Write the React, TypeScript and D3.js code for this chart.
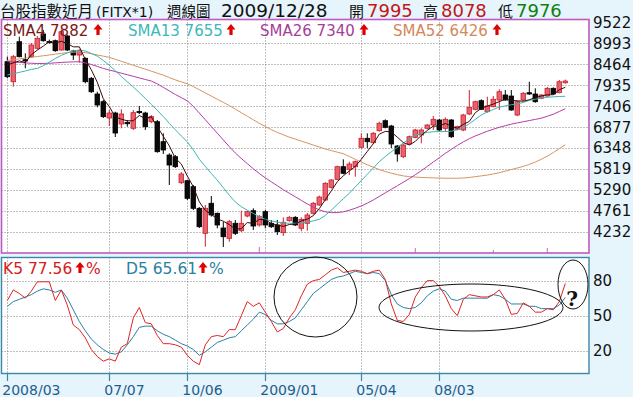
import React from "react";
import * as d3 from "d3";

// ---------- DATA ----------
const openP = [8530,8023,9036,8580,8656,8869,9231,9040,9061,8826,9180,8800,8699,8616,8110,7712,7517,7105,7231,6953,6990,6844,7270,7231,7011,7011,6505,6168,6125,5467,5518,5366,4819,4186,4946,4693,4321,4060,4440,4252,4624,4758,4397,4733,4440,4397,4202,4505,4591,4313,4440,4693,4903,5029,5351,5553,5872,5806,5872,6363,6591,6480,6783,7036,6902,6396,6125,6447,6616,6674,6844,6927,7054,6844,7054,6819,6801,7206,7325,7543,7264,7391,7560,7687,7661,7180,7560,7745,7712,7603,7661,7856,7745,7995];
const highP = [8656,8699,9163,8742,9003,9180,9332,9090,9090,9350,9205,8830,8843,8640,8143,7770,7560,7307,7264,7325,7054,7307,7408,7264,7180,7054,6717,6211,6168,5738,5535,5409,4850,4903,5130,4710,4480,4523,4523,4758,4760,4819,4650,4776,4520,4523,4590,4620,4620,4590,4700,4980,5140,5480,5560,5900,6059,6000,6030,6717,6717,6750,7010,7070,6930,6420,6450,6660,6830,6844,6950,7155,7080,7120,7080,6910,7210,7813,7545,7578,7644,7661,7831,7813,7813,7545,7760,8023,7856,7710,7890,7880,8066,8078];
const lowP = [8110,7897,8640,8363,8624,8840,9036,8990,8780,8808,8800,8573,8505,7983,7738,7375,7105,6902,6624,6844,6885,6801,7205,6801,6973,6226,6194,5409,5839,5434,5029,4776,4320,3847,4607,4313,3840,3974,4143,4220,4590,4270,4355,4313,4320,4143,4120,4480,4370,4240,4252,4660,4880,5000,5320,5530,5680,5662,5619,6337,6337,6450,6758,6844,6345,5999,6090,6420,6590,6464,6820,6801,6770,6758,6600,6790,6770,7180,7300,7307,7239,7375,7307,7543,7290,7150,7530,7690,7490,7580,7640,7690,7730,7976];
const closeP = [8150,8656,8656,8560,8952,9122,9061,9030,8808,9289,8826,8699,8808,8023,7770,7434,7138,7231,6725,7206,6970,7239,7262,6884,7138,6252,6295,5915,5872,5687,5072,4819,4353,4819,4650,4397,4100,4480,4186,4440,4733,4371,4607,4397,4353,4227,4465,4591,4397,4541,4650,4946,5105,5452,5535,5872,5705,5940,5999,6591,6505,6717,6971,6869,6447,6194,6421,6631,6801,6801,6927,7072,6801,7072,6631,6884,7180,7376,7517,7325,7408,7578,7770,7560,7307,7517,7730,7712,7517,7687,7856,7712,8023,8040];

const sma4 = [8450,8500,8550,8506,8706,8823,8924,9041,9005,9047,8988,8906,8906,8589,8325,8009,7591,7393,7132,7075,7033,7035,7169,7089,7131,6884,6642,6400,6084,5942,5637,5363,4983,4766,4660,4555,4492,4407,4291,4302,4460,4433,4538,4527,4432,4396,4361,4409,4420,4499,4545,4634,4811,5038,5260,5491,5641,5763,5879,6059,6259,6453,6696,6766,6751,6620,6483,6423,6512,6664,6790,6900,6900,6968,6894,6847,6942,7018,7239,7350,7407,7457,7520,7579,7554,7539,7529,7567,7619,7662,7693,7693,7820,7882];
const sma13 = [8193,8225,8260,8295,8335,8360,8430,8520,8610,8690,8750,8800,8826,8800,8740,8670,8560,8440,8300,8160,8020,7890,7750,7600,7450,7300,7140,6970,6810,6650,6500,6300,6060,5880,5700,5530,5340,5150,4980,4860,4770,4690,4610,4540,4500,4470,4450,4440,4440,4450,4470,4500,4540,4640,4770,4920,5060,5200,5360,5520,5680,5840,6000,6130,6250,6360,6470,6580,6670,6710,6740,6758,6760,6760,6770,6810,6860,6960,7070,7180,7260,7320,7380,7410,7440,7460,7500,7550,7580,7610,7630,7640,7650,7655];
const sma26 = [8530,8520,8510,8500,8490,8485,8485,8490,8500,8510,8520,8525,8530,8500,8460,8410,8360,8320,8280,8240,8200,8160,8120,8080,8040,7970,7880,7790,7700,7620,7540,7400,7230,7060,6890,6720,6550,6380,6220,6080,5950,5820,5700,5590,5490,5390,5290,5200,5110,5020,4930,4850,4780,4730,4710,4710,4730,4770,4820,4880,4950,5030,5120,5210,5300,5390,5480,5570,5670,5770,5880,5990,6100,6210,6310,6410,6500,6580,6650,6710,6770,6820,6870,6910,6950,6980,7010,7040,7070,7100,7150,7200,7270,7340];
const sma52 = [8560,8580,8600,8620,8640,8660,8680,8700,8720,8740,8760,8770,8780,8760,8730,8700,8670,8640,8590,8540,8490,8440,8390,8340,8290,8240,8190,8130,8070,8020,7970,7900,7820,7740,7660,7580,7500,7420,7330,7240,7150,7060,6970,6890,6810,6740,6680,6620,6570,6520,6470,6420,6370,6320,6280,6240,6200,6130,6060,5990,5920,5860,5800,5750,5710,5670,5640,5620,5610,5600,5595,5590,5585,5580,5580,5580,5585,5600,5620,5640,5660,5690,5720,5760,5800,5840,5880,5930,5990,6060,6140,6230,6330,6426];

const kLine = [63,72,69,65,71,79,79,79,63,72,59,42,38,31,21,15,11,13,11,23,26,48,57,44,43,33,26,26,25,23,16,11,8,25,32,33,32,38,38,50,62,58,61,53,45,36,39,48,55,67,77,80,81,85,89,91,87,88,89,88,86,88,89,81,60,46,45,51,66,74,80,80,75,67,56,50,64,68,67,66,66,68,72,64,51,52,61,58,53,53,56,55,62,77.56];
const dLine = [58,62,64,66,68,71,73,72,70,72,65,55,45,37,30,25,21,18,17,19,25,32,40,41,41,37,34,32,29,26,24,21,16,19,23,27,29,31,32,37,42,47,53,51,46,43,43,45,48,55,62,69,73,77,81,83,84,86,88,87,86,87,86,80,68,60,57,56,57,61,67,71,73,71,64,63,65,65,65,65,65,68,67,64,60,60,60,58,58,56,56,56,59,65.61];

const volIdx = [42, 68, 81, 90];
const volVal = [6, 5, 3, 5];

const priceTicks = [9522,8993,8464,7935,7406,6877,6348,5819,5290,4761,4232];
const kdTicks = [80, 50, 20];
const xTickLabels = ["2008/03","07/07","10/06","2009/01","05/04","08/03"];
const xTickDates = ["2008-03-10","2008-07-07","2008-10-06","2009-01-05","2009-05-04","2009-08-03"];
const holidayWeeks = ["2009-01-26"];

const header = { title: "台股指數近月", code: "(FITX*1)", period: "週線圖", date: "2009/12/28", open: 7995, high: 8078, low: 7976 };

// weekly categories
const fmt = d3.utcFormat("%Y-%m-%d");
const weeks = d3.utcMonday
  .range(new Date(Date.UTC(2008, 2, 10)), new Date(Date.UTC(2009, 11, 29)))
  .map(fmt)
  .filter((w) => !holidayWeeks.includes(w));

// ---------- LAYOUT ----------
const W = 633, H = 397;
const P1 = { x0: 1.5, x1: 589, y0: 19.5, y1: 253 };
const P2 = { x0: 1.5, x1: 589, y0: 257.5, y1: 373.5 };

const x = d3.scaleLinear().domain([0, weeks.length - 1]).range([7.3, 565.3]);
const y = d3.scaleLinear().domain([4232, 9522]).range([231.5, 22.5]);
const yk = d3.scaleLinear().domain([0, 100]).range([374, 257.3]);
const yv = d3.scaleLinear().domain([0, 10]).range([253, 243]);

const FONT = "'DejaVu Sans', Verdana, sans-serif";
const CJK = "'Noto Sans CJK TC', 'Noto Sans CJK SC', sans-serif";

const Arrow = ({ x0, base }: { x0: number; base: number }) => (
  <path
    d={`M${x0 + 4},${base - 11} L${x0 + 8.5},${base - 5.5} L${x0 + 5.6},${base - 5.5} L${x0 + 5.6},${base} L${x0 + 2.4},${base} L${x0 + 2.4},${base - 5.5} L${x0 - 0.5},${base - 5.5} Z`}
    fill="#E00000"
  />
);

export default function App() {
  const idx = d3.range(weeks.length);
  const lineGen = (arr: number[], ys: d3.ScaleLinear<number, number>) =>
    d3.line<number>().x((_, i) => x(i)).y((v) => ys(v))(arr) || "";

  const tickIdx = xTickDates.map((d) => weeks.indexOf(d));
  const gridDash = "1,2";
  const bw = 4.6;
  const hb = 16.5;

  return (
    <svg width={W} height={H} style={{ position: "absolute", left: 0, top: 0 }} xmlns="http://www.w3.org/2000/svg">
      <defs>
        <clipPath id="c1"><rect x={P1.x0} y={P1.y0} width={P1.x1 - P1.x0} height={P1.y1 - P1.y0} /></clipPath>
        <clipPath id="c2"><rect x={P2.x0} y={P2.y0} width={P2.x1 - P2.x0} height={P2.y1 - P2.y0} /></clipPath>
      </defs>
      <rect x={0} y={0} width={W} height={H} fill="#E6F4FC" />

      {/* header */}
      <g fontFamily={FONT}>
        <text x={0} y={hb} fontFamily={CJK} fontSize={15.5} fill="#111">{header.title}</text>
        <text x={96} y={hb} fontSize={14} fill="#111">{header.code}</text>
        <text x={167} y={hb} fontFamily={CJK} fontSize={14.5} fill="#111">{header.period}</text>
        <text x={221} y={hb} fontSize={18.5} fill="#111">{header.date}</text>
        <text x={349} y={hb} fontFamily={CJK} fontSize={15} fill="#111">開</text>
        <text x={367} y={hb} fontSize={18} fill="#C01818">{header.open}</text>
        <text x={423} y={hb} fontFamily={CJK} fontSize={15} fill="#111">高</text>
        <text x={441} y={hb} fontSize={18} fill="#C01818">{header.high}</text>
        <text x={498} y={hb} fontFamily={CJK} fontSize={15} fill="#111">低</text>
        <text x={516} y={hb} fontSize={18} fill="#108010">{header.low}</text>
      </g>

      {/* upper panel */}
      <rect x={P1.x0} y={P1.y0} width={P1.x1 - P1.x0} height={P1.y1 - P1.y0} fill="#fff" />
      <g stroke="#808080" strokeWidth={1} strokeDasharray={gridDash}>
        {priceTicks.slice(1).map((t) => (
          <line key={t} x1={P1.x0} x2={P1.x1} y1={Math.round(y(t)) + 0.5} y2={Math.round(y(t)) + 0.5} />
        ))}
        {tickIdx.map((t, i) => (
          <line key={i} x1={Math.round(x(t)) + 0.5} x2={Math.round(x(t)) + 0.5} y1={P1.y0} y2={P1.y1} />
        ))}
      </g>
      <g clipPath="url(#c1)">
        {volIdx.map((vi, i) => (
          <line key={i} x1={x(vi)} x2={x(vi)} y1={yv(0)} y2={yv(volVal[i])} stroke="#C070C0" strokeWidth={1} />
        ))}
        {idx.map((i) => {
          const up = closeP[i] >= openP[i];
          const top = y(Math.max(openP[i], closeP[i]));
          const bot = y(Math.min(openP[i], closeP[i]));
          const cx = x(i);
          return (
            <g key={i}>
              <line x1={cx} x2={cx} y1={y(highP[i])} y2={y(lowP[i])} stroke={up ? "#C8202E" : "#000"} strokeWidth={1} />
              <rect x={cx - bw / 2} y={top} width={bw} height={Math.max(1.2, bot - top)}
                fill={up ? "#E8626E" : "#0A0A0A"} stroke={up ? "#C8202E" : "#000"} strokeWidth={0.8} />
            </g>
          );
        })}
        <path d={lineGen(sma52, y)} fill="none" stroke="#D49464" strokeWidth={1} />
        <path d={lineGen(sma26, y)} fill="none" stroke="#B63CA6" strokeWidth={1} />
        <path d={lineGen(sma13, y)} fill="none" stroke="#3CB4B4" strokeWidth={1} />
        <path d={lineGen(sma4, y)} fill="none" stroke="#3A0A0A" strokeWidth={1} />
      </g>
      <rect x={P1.x0} y={P1.y0} width={P1.x1 - P1.x0} height={P1.y1 - P1.y0} fill="none" stroke="#C05AC0" strokeWidth={1.6} />

      {/* SMA legend */}
      <g fontFamily={FONT} fontSize={15}>
        <text x={3} y={36} fill="#7A1818">SMA4 {sma4[sma4.length - 1]}</text>
        <Arrow x0={94} base={35} />
        <text x={128} y={36} fill="#3CB8B8">SMA13 {sma13[sma13.length - 1]}</text>
        <Arrow x0={227} base={35} />
        <text x={260} y={36} fill="#A83C96">SMA26 {sma26[sma26.length - 1]}</text>
        <Arrow x0={360} base={35} />
        <text x={393} y={36} fill="#D4885A">SMA52 {sma52[sma52.length - 1]}</text>
        <Arrow x0={493} base={35} />
      </g>

      {/* right price labels */}
      <g fontFamily={FONT} fontSize={15} fill="#111">
        {priceTicks.map((t) => (
          <text key={t} x={593} y={y(t) + 5.5}>{t}</text>
        ))}
      </g>

      {/* lower panel */}
      <rect x={P2.x0} y={P2.y0} width={P2.x1 - P2.x0} height={P2.y1 - P2.y0} fill="#fff" />
      <g stroke="#808080" strokeWidth={1} strokeDasharray={gridDash}>
        {kdTicks.map((t) => (
          <line key={t} x1={P2.x0} x2={P2.x1} y1={Math.round(yk(t)) + 0.5} y2={Math.round(yk(t)) + 0.5} />
        ))}
        {tickIdx.map((t, i) => (
          <line key={i} x1={Math.round(x(t)) + 0.5} x2={Math.round(x(t)) + 0.5} y1={P2.y0} y2={P2.y1} />
        ))}
      </g>
      <g clipPath="url(#c2)">
        <path d={lineGen(dLine, yk)} fill="none" stroke="#2A7FA2" strokeWidth={1} />
        <path d={lineGen(kLine, yk)} fill="none" stroke="#E02424" strokeWidth={1} />
      </g>
      <rect x={P2.x0} y={P2.y0} width={P2.x1 - P2.x0} height={P2.y1 - P2.y0} fill="none" stroke="#3A88A6" strokeWidth={1.4} />

      {/* KD legend */}
      <g fontFamily={FONT} fontSize={15.5}>
        <text x={3} y={274} fill="#D42020">K5 {kLine[kLine.length - 1].toFixed(2)}</text>
        <Arrow x0={76} base={273} />
        <text x={86} y={274} fill="#D42020">%</text>
        <text x={126} y={274} fill="#2A7FA2">D5 {dLine[dLine.length - 1].toFixed(2)}</text>
        <Arrow x0={199} base={273} />
        <text x={209} y={274} fill="#2A7FA2">%</text>
      </g>

      {/* annotations */}
      <g fill="none" stroke="#111" strokeWidth={1}>
        <ellipse cx={315.5} cy={297} rx={41.5} ry={40} />
        <ellipse cx={471} cy={307.5} rx={92} ry={23.5} />
        <ellipse cx={573} cy={284.5} rx={15} ry={24.5} />
      </g>
      <text x={572} y={306} textAnchor="middle" fontFamily="'DejaVu Serif', serif" fontWeight="bold" fontSize={20} fill="#111">?</text>

      {/* KD labels */}
      <g fontFamily={FONT} fontSize={15} fill="#111">
        {kdTicks.map((t) => (
          <text key={t} x={593} y={yk(t) + 5.5}>{t}</text>
        ))}
      </g>

      {/* x axis */}
      <g>
        {tickIdx.map((t, i) => (
          <g key={i}>
            <line x1={Math.round(x(t)) + 0.5} x2={Math.round(x(t)) + 0.5} y1={374} y2={381} stroke="#3A88A6" strokeWidth={1.2} />
            <text x={x(t) - 5} y={395} fontFamily={FONT} fontSize={14} fill="#1E5E8C">{xTickLabels[i]}</text>
          </g>
        ))}
      </g>
    </svg>
  );
}
